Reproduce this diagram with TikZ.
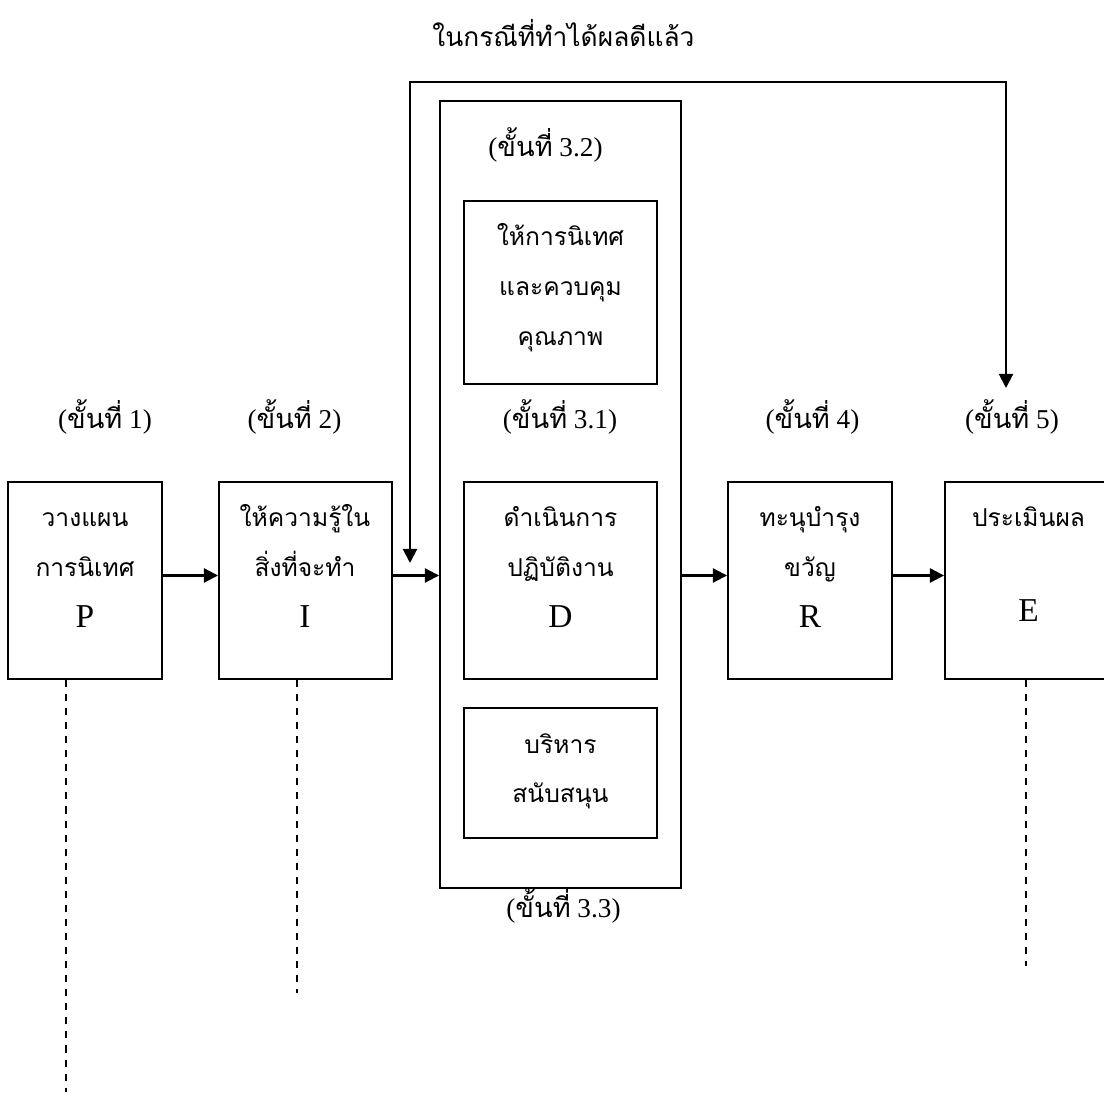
\documentclass[tikz,border=0pt]{standalone}
\usepackage{fontspec}
\setmainfont{Liberation Serif}
\newfontfamily\thaifont[Script=Thai]{Loma}
\usetikzlibrary{arrows.meta,positioning,calc}

\newcommand{\khan}[1]{({\thaifont ขั้นที่} #1)}

\tikzset{
  box/.style={draw, line width=1.1pt, inner sep=0pt},
  thtext/.style={anchor=base, inner sep=0pt, font=\fontsize{14}{17}\selectfont\thaifont},
  bigletter/.style={anchor=base, inner sep=0pt, font=\fontsize{19}{22}\selectfont},
  stagelbl/.style={anchor=base, inner sep=0pt, font=\fontsize{15.5}{18}\selectfont},
  flow/.style={-{Triangle[length=8pt,width=8pt]}, line width=1.2pt},
  dashline/.style={line width=1.1pt, dash pattern=on 4pt off 4pt}
}

\begin{document}
\begin{tikzpicture}
                \useasboundingbox (0,0) rectangle (22.08,21.94);

                % Step boxes
                \node[box, minimum width=3.08cm, minimum height=3.94cm] (P) at (1.70,10.33) {};
                \node[box, minimum width=3.46cm, minimum height=3.94cm] (I) at (6.11,10.33) {};
                \node[box, minimum width=4.82cm, minimum height=15.74cm] (Dout) at (11.21,12.05) {};
                \node[box, minimum width=3.86cm, minimum height=3.66cm] (S32) at (11.21,16.09) {};
                \node[box, minimum width=3.86cm, minimum height=3.94cm] (D) at (11.21,10.33) {};
                \node[box, minimum width=3.86cm, minimum height=2.60cm] (S33) at (11.21,6.48) {};
                \node[box, minimum width=3.28cm, minimum height=3.94cm] (R) at (16.20,10.33) {};
                \node[box, minimum width=3.34cm, minimum height=3.94cm] (E) at (20.57,10.33) {};

                % Texts in the boxes
                \node[thtext] (p1) at (1.70,11.40) {วางแผน};
                \node[thtext] (p2) at (1.70,10.40) {การนิเทศ};
                \node[bigletter] (p3) at (1.70,9.38) {P};

                \node[thtext] (i1) at (6.10,11.40) {ให้ความรู้ใน};
                \node[thtext] (i2) at (6.10,10.40) {สิ่งที่จะทำ};
                \node[bigletter] (i3) at (6.10,9.38) {I};

                \node[thtext] (s1) at (11.21,17.02) {ให้การนิเทศ};
                \node[thtext] (s2) at (11.21,16.02) {และควบคุม};
                \node[thtext] (s3) at (11.21,15.02) {คุณภาพ};

                \node[thtext] (d1) at (11.21,11.40) {ดำเนินการ};
                \node[thtext] (d2) at (11.21,10.40) {ปฏิบัติงาน};
                \node[bigletter] (d3) at (11.21,9.38) {D};

                \node[thtext] (b1) at (11.21,6.86) {บริหาร};
                \node[thtext] (b2) at (11.21,5.88) {สนับสนุน};

                \node[thtext] (r1) at (16.20,11.40) {ทะนุบำรุง};
                \node[thtext] (r2) at (16.20,10.40) {ขวัญ};
                \node[bigletter] (r3) at (16.20,9.38) {R};

                \node[thtext] (e1) at (20.57,11.40) {ประเมินผล};
                \node[bigletter] (e2) at (20.57,9.50) {E};

                % Step labels
                \node[stagelbl] (L1) at (2.10,13.36) {\khan{1}};
                \node[stagelbl] (L2) at (5.89,13.36) {\khan{2}};
                \node[stagelbl] (L31) at (11.20,13.36) {\khan{3.1}};
                \node[stagelbl] (L4) at (16.25,13.36) {\khan{4}};
                \node[stagelbl] (L5) at (20.24,13.36) {\khan{5}};
                \node[stagelbl] (L32) at (10.91,18.80) {\khan{3.2}};
                \node[stagelbl] (L33) at (11.27,3.58) {\khan{3.3}};
                \node[thtext, font=\fontsize{15}{18}\selectfont\thaifont] (top) at (11.27,21.00) {ในกรณีที่ทำได้ผลดีแล้ว};

                % Arrows
                \draw[flow] ([yshift=0.1cm]P.east) -- ([yshift=0.1cm]I.west);
                \draw[flow] ([yshift=0.1cm]I.east) -- ([yshift=0.1cm]I.east -| Dout.west);
                \draw[flow] ([yshift=0.1cm]R.west -| Dout.east) -- ([yshift=0.1cm]R.west);
                \draw[flow] ([yshift=0.1cm]R.east) -- ([yshift=0.1cm]E.west);

                % Feedback line
                \coordinate (fbIn) at (8.20,10.68);
                \coordinate (fbTop) at (8.20,20.30);
                \coordinate (fbOut) at (20.12,14.18);
                \draw[{Triangle[length=8pt,width=8pt]}-{Triangle[length=8pt,width=8pt]}, line width=1.2pt] (fbIn) -- (fbTop) -| (fbOut);

                % Dashed lines
                \coordinate (pEnd) at (1.32,0.10);
                \coordinate (iEnd) at (5.94,2.08);
                \coordinate (eEnd) at (20.52,2.62);
                \draw[dashline] (pEnd |- P.south) -- (pEnd);
                \draw[dashline] (iEnd |- I.south) -- (iEnd);
                \draw[dashline] (eEnd |- E.south) -- (eEnd);
            \end{tikzpicture}
\end{document}
